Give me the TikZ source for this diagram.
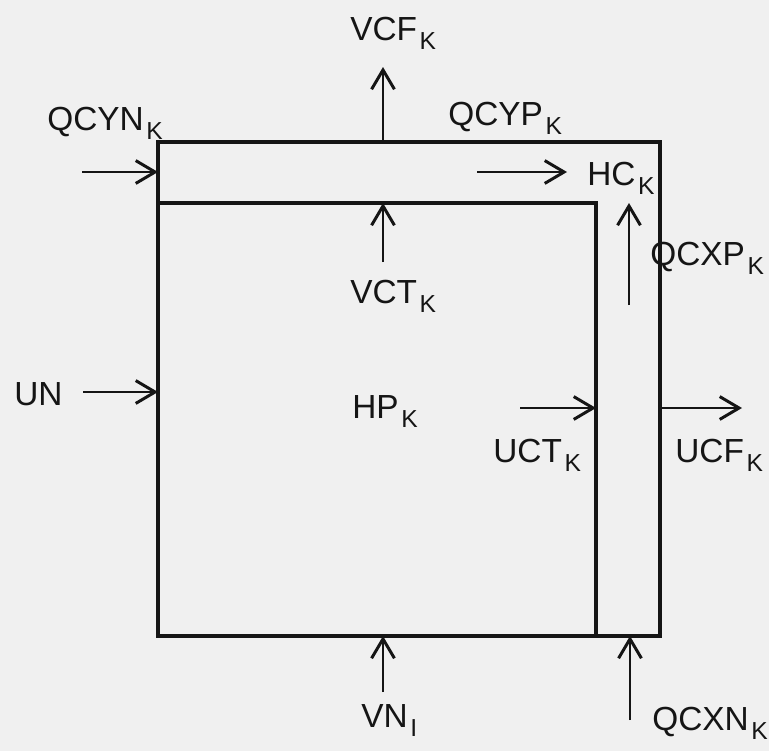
\documentclass[tikz,border=0pt]{standalone}
\usepackage{fontspec}
\setmainfont{Liberation Sans}
\usepackage{xcolor}
\usepackage{tikz}
\usetikzlibrary{positioning,arrows.meta}
\definecolor{PaperBg}{HTML}{F0F0F0}
\definecolor{InkBlack}{HTML}{151515}
\newcommand{\lowsub}[1]{\kern1.5pt\raisebox{-5.5pt}{\fontsize{14}{15}\selectfont #1}}

\begin{document}
\begin{tikzpicture}[x=0.02cm, y=-0.02cm,
    wall/.style={draw=InkBlack, line width=2pt},
    flow/.style={draw=InkBlack, line width=1.7pt,
                 -{Straight Barb[length=11pt,width=13pt]}},
    lbl/.style={inner sep=0pt, anchor=base west, text=InkBlack,
                font=\fontsize{19}{22}\selectfont}]
      \useasboundingbox[fill=PaperBg] (0,0) rectangle (769,751);
      % cell outline
      \coordinate (tl) at (158,142);
      \coordinate (tr) at (660,142);
      \coordinate (br) at (660,636);
      \coordinate (bl) at (158,636);
      \coordinate (itl) at (158,203);
      \coordinate (itr) at (596,203);
      \coordinate (ibr) at (596,636);
      \draw[wall] (tl) -- (tr) -- (br) -- (bl) -- cycle;
      \draw[wall] (itl) -- (itr) -- (ibr);
      % arrow ends
      \coordinate (vcfEnd) at (383,67);
      \coordinate (qcynStart) at (82,172);
      \coordinate (vctStart) at (383,262);
      \coordinate (hcStart) at (477,172);
      \coordinate (hcEnd) at (567,172);
      \coordinate (qcxpStart) at (629,305);
      \coordinate (unStart) at (83,392);
      \coordinate (uctStart) at (520,408);
      \coordinate (ucfEnd) at (742,408);
      \coordinate (qcxnStart) at (630,720);
      \coordinate (vnStart) at (383,692);
      \draw[flow] (vcfEnd |- tl) -- (vcfEnd);
      \draw[flow] (qcynStart) -- (qcynStart -| tl);
      \draw[flow] (vctStart) -- (vctStart |- itl);
      \draw[flow] (hcStart) -- (hcEnd);
      \draw[flow] (qcxpStart) -- (qcxpStart |- itr);
      \draw[flow] (unStart) -- (unStart -| tl);
      \draw[flow] (uctStart) -- (uctStart -| itr);
      \draw[flow] (ucfEnd -| tr) -- (ucfEnd);
      \draw[flow] (qcxnStart) -- (qcxnStart |- br);
      \draw[flow] (vnStart) -- (vnStart |- bl);
      % labels
      \node[lbl] (vcf) at (350,40) {VCF\lowsub{K}};
      \node[lbl] (qcyn) at (47,130) {QCYN\lowsub{K}};
      \node[lbl] (vct) at (350,303) {VCT\lowsub{K}};
      \node[lbl] (qcyp) at (448,125) {QCYP\lowsub{K}};
      \node[lbl] (hc) at (587,185) {HC\lowsub{K}};
      \node[lbl] (qcxp) at (650,265) {QCXP\lowsub{K}};
      \node[lbl] (un) at (14,405) {UN};
      \node[lbl] (hp) at (352,418) {HP\lowsub{K}};
      \node[lbl] (uct) at (493,462) {UCT\lowsub{K}};
      \node[lbl] (ucf) at (675,462) {UCF\lowsub{K}};
      \node[lbl] (qcxn) at (652,730) {QCXN\lowsub{K}};
      \node[lbl] (vn) at (361,727) {VN\lowsub{I}};
\end{tikzpicture}
\end{document}
